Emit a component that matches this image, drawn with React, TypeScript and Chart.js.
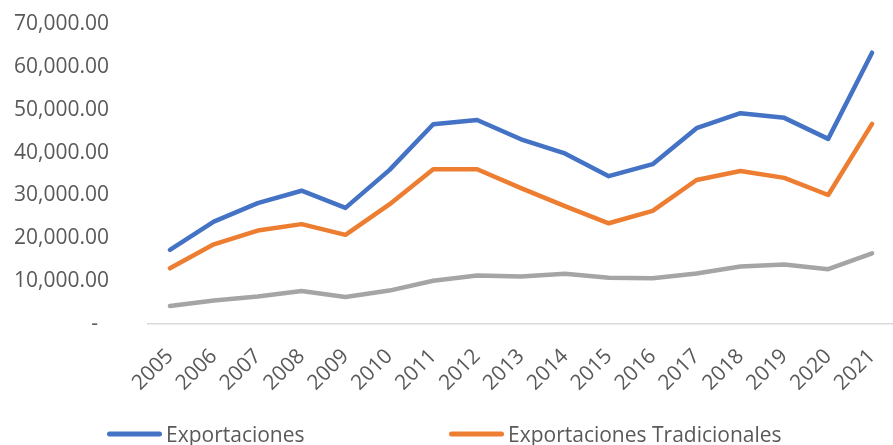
import React, { useEffect, useRef } from "react";
import { Chart, registerables } from "chart.js";

Chart.register(...registerables);

const years = ["2005","2006","2007","2008","2009","2010","2011","2012","2013","2014","2015","2016","2017","2018","2019","2020","2021"];
const exportaciones = [17300, 23900, 28200, 31100, 27100, 35900, 46600, 47600, 43100, 39800, 34500, 37300, 45700, 49200, 48100, 43200, 63300];
const tradicionales = [13000, 18600, 21800, 23300, 20800, 27900, 36100, 36100, 31700, 27500, 23500, 26400, 33600, 35700, 34100, 30100, 46700];
const noTradicionales = [4200, 5500, 6400, 7700, 6300, 7800, 10100, 11300, 11100, 11700, 10800, 10700, 11800, 13400, 13900, 12800, 16500];
const seriesNames = ["Exportaciones", "Exportaciones Tradicionales", "Exportaciones No Tradicionales"];
const seriesColors = ["#4472C4", "#ED7D31", "#A5A5A5"];
const yTicks = [0, 10000, 20000, 30000, 40000, 50000, 60000, 70000];

const FONT = "'Open Sans', sans-serif";
const TEXT_COLOR = "#595959";

const legendPlugin = {
  id: "customLegend",
  afterDraw(chart: any) {
    const ctx = chart.ctx;
    const positions = [
      { x: 107, y: 434 },
      { x: 449, y: 434 },
      { x: 107, y: 470 },
    ];
    ctx.save();
    ctx.font = `21px ${FONT}`;
    ctx.textBaseline = "middle";
    ctx.textAlign = "left";
    chart.data.datasets.forEach((ds: any, i: number) => {
      const p = positions[i];
      if (!p) return;
      ctx.strokeStyle = ds.borderColor;
      ctx.lineWidth = 5;
      ctx.lineCap = "round";
      ctx.beginPath();
      ctx.moveTo(p.x + 2.5, p.y);
      ctx.lineTo(p.x + 52.5, p.y);
      ctx.stroke();
      ctx.fillStyle = TEXT_COLOR;
      ctx.fillText(ds.label, p.x + 59, p.y + 2);
    });
    ctx.restore();
  },
};

export default function App() {
  const ref = useRef<HTMLCanvasElement | null>(null);

  useEffect(() => {
    document.body.style.margin = "0";
    if (!ref.current) return;
    const data = [exportaciones, tradicionales, noTradicionales];
    const chart = new Chart(ref.current, {
      type: "line",
      data: {
        labels: years,
        datasets: data.map((d, i) => ({
          label: seriesNames[i],
          data: d,
          borderColor: seriesColors[i],
          backgroundColor: seriesColors[i],
          borderWidth: 4.5,
          pointRadius: 0,
          pointHoverRadius: 0,
          tension: 0,
          borderCapStyle: "round",
          borderJoinStyle: "round",
          fill: false,
        })),
      },
      options: {
        responsive: false,
        animation: false,
        maintainAspectRatio: false,
        layout: { padding: { top: 0, left: 0, right: 4, bottom: 66 } },
        plugins: {
          legend: { display: false },
          tooltip: { enabled: false },
        },
        scales: {
          x: {
            type: "category",
            offset: true,
            clip: false,
            grid: { display: false, drawTicks: false },
            border: { display: true, color: "#D9D9D9", width: 1.5 },
            ticks: {
              color: TEXT_COLOR,
              font: { family: FONT, size: 21 },
              minRotation: 45,
              maxRotation: 45,
              autoSkip: false,
              padding: 20,
            },
            afterFit: (scale: any) => {
              scale.height = 90;
            },
          },
          y: {
            min: 0,
            max: 70000,
            grid: { display: false, drawTicks: false },
            border: { display: false },
            afterBuildTicks: (scale: any) => {
              scale.ticks = yTicks.map((v) => ({ value: v }));
            },
            ticks: {
              color: TEXT_COLOR,
              font: { family: FONT, size: 21 },
              padding: 39,
              callback: (v: any) =>
                Number(v) === 0
                  ? "-  "
                  : Number(v).toLocaleString("en-US", { minimumFractionDigits: 2, maximumFractionDigits: 2 }),
            },
            afterFit: (scale: any) => {
              scale.width = 148;
              scale.paddingTop = 24;
              scale.paddingBottom = 0;
            },
          },
        },
      },
      plugins: [legendPlugin],
    });
    return () => chart.destroy();
  }, []);

  return (
    <div style={{ width: 893, height: 445, overflow: "hidden", position: "relative", background: "#fff" }}>
      <canvas ref={ref} width={910} height={480} style={{ display: "block" }} />
    </div>
  );
}
